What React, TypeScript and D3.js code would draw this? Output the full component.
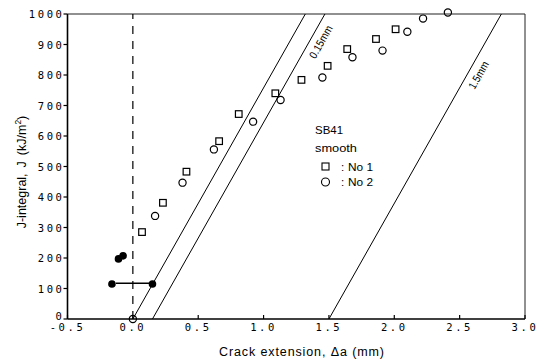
import * as d3 from "d3";

// data
const sqA = [0.07, 0.23, 0.41, 0.66, 0.81, 1.09, 1.29, 1.49, 1.64, 1.86, 2.01];
const sqJ = [285, 381, 483, 583, 672, 740, 784, 830, 885, 918, 950];
const ciA = [0, 0.17, 0.38, 0.62, 0.92, 1.13, 1.45, 1.68, 1.91, 2.1, 2.22, 2.41];
const ciJ = [0, 338, 447, 556, 647, 718, 792, 858, 880, 942, 985, 1005];
const fillA = [-0.16, -0.11, -0.075, 0.15];
const fillJ = [115, 197, 207, 115];
const lineOffsets = [0, 0.15, 1.5];
const lineLabels = ["", "0.15mm", "1.5mm"];
const labelJ = [0, 925, 816];
const bluntSlope = 758; // kJ/m2 per mm
const xTicks = [-0.5, 0, 0.5, 1, 1.5, 2, 2.5, 3];
const yTicks = [0, 100, 200, 300, 400, 500, 600, 700, 800, 900, 1000];

const W = 543, H = 361;
const x = d3.scaleLinear().domain([-0.5, 3]).range([67.5, 525]);
const y = d3.scaleLinear().domain([0, 1000]).range([319, 14]);

const mono = "'DejaVu Sans Mono', monospace";
const sans = "'Liberation Sans', Arial, sans-serif";

export default function App() {
  const jTop = 1000;
  return (
    <svg width={W} height={H} style={{ position: "absolute", left: 0, top: 0, background: "#fff" }}>
      {/* frame */}
      <line x1={x(-0.5)} x2={x(3)} y1={y(0)} y2={y(0)} stroke="#000" strokeWidth={1.6} />
      <line x1={x(-0.5)} x2={x(-0.5)} y1={y(0)} y2={y(1000)} stroke="#000" strokeWidth={1.6} />
      <line x1={x(-0.5)} x2={x(3)} y1={y(1000)} y2={y(1000)} stroke="#222" strokeWidth={1.2} />
      <line x1={x(3)} x2={x(3)} y1={y(0)} y2={y(1000)} stroke="#222" strokeWidth={1} />

      {xTicks.map((t) => (
        <g key={"x" + t}>
          <line x1={x(t)} x2={x(t)} y1={y(0)} y2={y(0) - 4} stroke="#000" strokeWidth={1.2} />
          <text x={x(t)} y={y(0) + 12} textAnchor="middle" fontFamily={mono} fontSize={10.5}
            letterSpacing={2.6} fill="#000">{t.toFixed(1)}</text>
        </g>
      ))}
      {yTicks.map((t) => (
        <g key={"y" + t}>
          <line x1={x(-0.5) - 4} x2={x(-0.5)} y1={y(t)} y2={y(t)} stroke="#000" strokeWidth={1.2} />
          <text x={x(-0.5) - 3} y={y(t) + (t === 0 ? 1 : 4)} textAnchor="end" fontFamily={mono} fontSize={10.5}
            letterSpacing={2.6} fill="#000">{t}</text>
        </g>
      ))}

      {/* axis titles */}
      <text x={219} y={356} fontFamily={sans} fontSize={12.5} fill="#000"
        textLength={165} lengthAdjust="spacing">
        Crack extension, Δa (mm)
      </text>
      <text transform={`translate(26,172) rotate(-90)`} textAnchor="middle" fontFamily={sans}
        fontSize={12.5} fill="#000">
        J-integral,<tspan dx={6}>J</tspan><tspan dx={6}>(kJ/m</tspan>
        <tspan dy={-5} fontSize={8.5}>2</tspan><tspan dy={5}>)</tspan>
      </text>

      {/* vertical dashed line at zero */}
      <line x1={x(0)} x2={x(0)} y1={y(0)} y2={y(1000)} stroke="#000" strokeWidth={1.2}
        strokeDasharray="8 7" />

      {/* blunting / offset lines */}
      {lineOffsets.map((o, i) => {
        const x0 = x(o), x1 = x(o + jTop / bluntSlope);
        const dx = x1 - x0, dy = y(jTop) - y(0);
        const len = Math.hypot(dx, dy);
        const ang = (Math.atan2(dy, dx) * 180) / Math.PI;
        const px = x(o + labelJ[i] / bluntSlope), py = y(labelJ[i]);
        // push label off the line, to its lower right
        const nx = (-dy / len) * 14, ny = (dx / len) * 14;
        return (
          <g key={"l" + i}>
            <line x1={x0} y1={y(0)} x2={x1} y2={y(jTop)} stroke="#000" strokeWidth={1} />
            {lineLabels[i] && (
              <text transform={`translate(${px + nx},${py + ny}) rotate(${ang})`}
                textAnchor="middle" fontFamily={sans} fontSize={11} fill="#000"
                textLength={i === 1 ? 36 : 30} lengthAdjust="spacingAndGlyphs">
                {lineLabels[i]}
              </text>
            )}
          </g>
        );
      })}

      {/* horizontal bar */}
      <line x1={x(-0.13)} x2={x(0.13)} y1={y(117)} y2={y(117)} stroke="#000" strokeWidth={1.4} />

      {/* data */}
      {sqA.map((a, i) => (
        <rect key={"s" + i} x={x(a) - 3.3} y={y(sqJ[i]) - 3.3} width={6.6} height={6.6}
          fill="none" stroke="#000" strokeWidth={1.2} />
      ))}
      {ciA.map((a, i) => (
        <circle key={"c" + i} cx={x(a)} cy={y(ciJ[i])} r={3.6} fill="none" stroke="#000" strokeWidth={1.2} />
      ))}
      {fillA.map((a, i) => (
        <circle key={"f" + i} cx={x(a)} cy={y(fillJ[i])} r={3.8} fill="#000" />
      ))}

      {/* legend */}
      <g fontFamily={sans} fontSize={11.5} fill="#000">
        <text x={315} y={134} textLength={28} lengthAdjust="spacingAndGlyphs">SB41</text>
        <text x={315} y={152} textLength={42} lengthAdjust="spacingAndGlyphs">smooth</text>
        <rect x={322} y={163} width={7} height={7} fill="none" stroke="#000" strokeWidth={1.1} />
        <text x={341} y={171}>:</text>
        <text x={348} y={171} textLength={25} lengthAdjust="spacingAndGlyphs">No 1</text>
        <circle cx={325.5} cy={182} r={4} fill="none" stroke="#000" strokeWidth={1.1} />
        <text x={341} y={186}>:</text>
        <text x={348} y={186} textLength={25} lengthAdjust="spacingAndGlyphs">No 2</text>
      </g>
    </svg>
  );
}
